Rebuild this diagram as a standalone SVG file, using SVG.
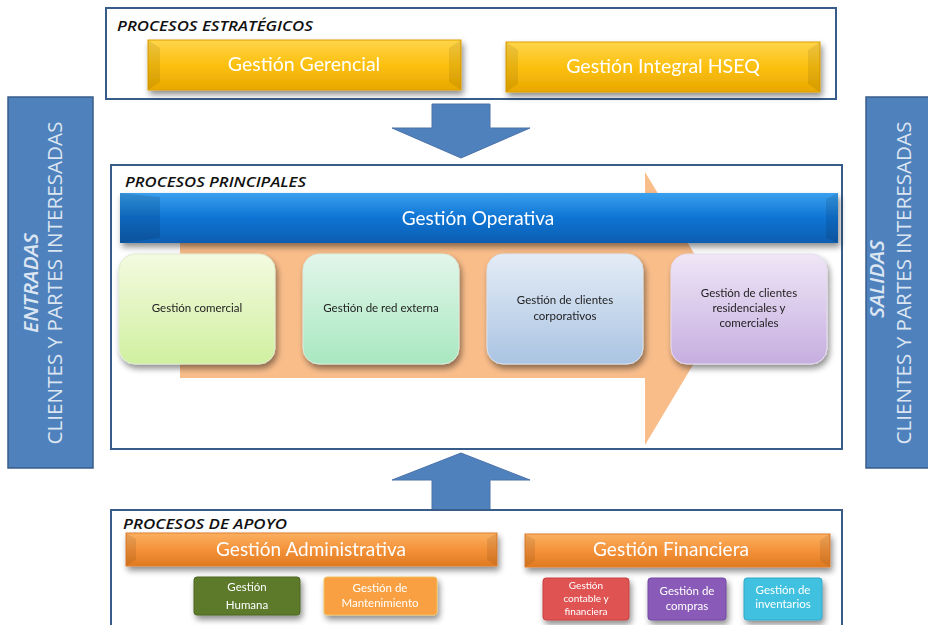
<svg xmlns="http://www.w3.org/2000/svg" width="928" height="625" viewBox="0 0 928 625">
<style>
.frame{fill:#fff;stroke:#385d8a;stroke-width:2}
.side{fill:#4f81bd;stroke:#385d8a;stroke-width:1.5}
.sec{font-family:"Open Sans","Liberation Sans",sans-serif;font-style:italic;font-weight:600;font-size:15px;fill:#111}
.wt{font-family:Lato,"Open Sans",sans-serif;fill:#fff;text-anchor:middle}
.dk{font-family:Lato,"Open Sans",sans-serif;fill:#222;text-anchor:middle;font-size:11.5px}
.st{font-family:"Open Sans","Liberation Sans",sans-serif;fill:#dce6f2;text-anchor:middle;font-size:20px}
.blk{stroke:#4a72a8;fill:#4f81bd;stroke-width:1}
</style>
<defs>
<linearGradient id="gold" x1="0" y1="0" x2="0" y2="1"><stop offset="0" stop-color="#ffd54a"/><stop offset="0.5" stop-color="#fcc010"/><stop offset="1" stop-color="#e8a800"/></linearGradient>
<linearGradient id="blue" x1="0" y1="0" x2="0" y2="1"><stop offset="0" stop-color="#3aa0ee"/><stop offset="0.5" stop-color="#0f74d4"/><stop offset="1" stop-color="#0a5eb0"/></linearGradient>
<linearGradient id="orng" x1="0" y1="0" x2="0" y2="1"><stop offset="0" stop-color="#fbb060"/><stop offset="0.5" stop-color="#f4923a"/><stop offset="1" stop-color="#e07a20"/></linearGradient>
<linearGradient id="c1" x1="0" y1="0" x2="0" y2="1"><stop offset="0" stop-color="#f4fae0"/><stop offset="1" stop-color="#d0f0a0"/></linearGradient>
<linearGradient id="c2" x1="0" y1="0" x2="0" y2="1"><stop offset="0" stop-color="#e2f6ea"/><stop offset="1" stop-color="#a8e8c0"/></linearGradient>
<linearGradient id="c3" x1="0" y1="0" x2="0" y2="1"><stop offset="0" stop-color="#e4ecf6"/><stop offset="1" stop-color="#aac4e2"/></linearGradient>
<linearGradient id="c4" x1="0" y1="0" x2="0" y2="1"><stop offset="0" stop-color="#efe6f6"/><stop offset="1" stop-color="#c6aee0"/></linearGradient>
<filter id="sh" x="-10%" y="-20%" width="130%" height="160%"><feGaussianBlur in="SourceAlpha" stdDeviation="3"/><feOffset dx="2" dy="4"/><feComponentTransfer><feFuncA type="linear" slope="0.45"/></feComponentTransfer><feMerge><feMergeNode/><feMergeNode in="SourceGraphic"/></feMerge></filter>
</defs>

<g id="entradas">
<rect class="side" x="8" y="97" width="85" height="371"/>
<text class="st" transform="translate(38 283) rotate(-90)" font-style="italic" font-weight="600" textLength="100" lengthAdjust="spacingAndGlyphs">ENTRADAS</text>
<text class="st" transform="translate(62 283) rotate(-90)" textLength="323" lengthAdjust="spacingAndGlyphs">CLIENTES  Y  PARTES INTERESADAS</text>
</g>
<g id="salidas">
<rect class="side" x="866" y="97" width="70" height="371"/>
<text class="st" transform="translate(884 279) rotate(-90)" font-style="italic" font-weight="600" textLength="78" lengthAdjust="spacingAndGlyphs">SALIDAS</text>
<text class="st" transform="translate(911 283) rotate(-90)" textLength="323" lengthAdjust="spacingAndGlyphs">CLIENTES  Y  PARTES INTERESADAS</text>
</g>

<g id="estrategicos">
<rect class="frame" x="106" y="8" width="730" height="91"/>
<text class="sec" x="117" y="31" textLength="196" lengthAdjust="spacingAndGlyphs">PROCESOS ESTRATÉGICOS</text>
<g id="gerencial" filter="url(#sh)">
<rect x="148" y="40" width="313" height="50" fill="url(#gold)" stroke="#e0a000"/>
<polygon points="148,40 160,48 160,82 148,90" fill="#000" opacity="0.08"/>
<polygon points="461,40 449,48 449,82 461,90" fill="#000" opacity="0.08"/>
<text class="wt" x="304" y="71" font-size="19.5">Gestión Gerencial</text>
</g>
<g id="hseq" filter="url(#sh)">
<rect x="506" y="42" width="314" height="50" fill="url(#gold)" stroke="#e0a000"/>
<polygon points="506,42 518,50 518,84 506,92" fill="#000" opacity="0.08"/>
<polygon points="820,42 808,50 808,84 820,92" fill="#000" opacity="0.08"/>
<text class="wt" x="663" y="73" font-size="19.5">Gestión Integral HSEQ</text>
</g>
</g>

<g id="connectors">
<polygon class="blk" points="432,104 490,104 490,128 530,128 461,158 392,128 432,128"/>
<polygon class="blk" points="461,453 530,480 490,480 490,512 432,512 432,480 392,480"/>
</g>

<g id="principales">
<rect class="frame" x="111" y="165" width="731" height="284"/>
<polygon points="180,238 645,238 645,172 727,308 645,445 645,378 180,378" fill="#f9bd8a"/>
<text class="sec" x="125" y="187" textLength="181" lengthAdjust="spacingAndGlyphs">PROCESOS PRINCIPALES</text>
<g id="operativa" filter="url(#sh)">
<rect x="120" y="193" width="718" height="50" fill="url(#blue)"/>
<polygon points="120,193 160,197 160,238 120,243" fill="#000" opacity="0.12"/>
<polygon points="838,193 826,199 826,238 838,243" fill="#000" opacity="0.1"/>
<text class="wt" x="478" y="225" font-size="19">Gestión Operativa</text>
</g>
<g id="comercial" filter="url(#sh)">
<rect x="119" y="254" width="156" height="110" rx="16" fill="url(#c1)" stroke="#e0ecd0"/>
<text class="dk" x="197" y="312">Gestión comercial</text>
</g>
<g id="redexterna" filter="url(#sh)">
<rect x="303" y="254" width="156" height="110" rx="16" fill="url(#c2)" stroke="#d8ece0"/>
<text class="dk" x="381" y="312">Gestión de red externa</text>
</g>
<g id="corporativos" filter="url(#sh)">
<rect x="487" y="254" width="156" height="110" rx="16" fill="url(#c3)" stroke="#d8e2ee"/>
<text class="dk" x="565" y="304">Gestión de clientes</text>
<text class="dk" x="565" y="320">corporativos</text>
</g>
<g id="residenciales" filter="url(#sh)">
<rect x="671" y="254" width="156" height="110" rx="16" fill="url(#c4)" stroke="#e4dcee"/>
<text class="dk" x="749" y="297">Gestión de clientes</text>
<text class="dk" x="749" y="312">residenciales y</text>
<text class="dk" x="749" y="327">comerciales</text>
</g>
</g>

<g id="apoyo">
<rect class="frame" x="111" y="510" width="731" height="130"/>
<text class="sec" x="123" y="529" textLength="164" lengthAdjust="spacingAndGlyphs">PROCESOS DE APOYO</text>
<g id="administrativa" filter="url(#sh)">
<rect x="126" y="533" width="371" height="33" fill="url(#orng)" stroke="#e08030"/>
<polygon points="126,533 136,539 136,560 126,566" fill="#000" opacity="0.08"/>
<polygon points="497,533 487,539 487,560 497,566" fill="#000" opacity="0.08"/>
<text class="wt" x="311" y="556" font-size="19">Gestión Administrativa</text>
</g>
<g id="financiera" filter="url(#sh)">
<rect x="525" y="534" width="305" height="33" fill="url(#orng)" stroke="#e08030"/>
<polygon points="525,534 535,540 535,561 525,567" fill="#000" opacity="0.08"/>
<polygon points="830,534 820,540 820,561 830,567" fill="#000" opacity="0.08"/>
<text class="wt" x="671" y="556" font-size="19">Gestión Financiera</text>
</g>
<g id="humana" filter="url(#sh)">
<rect x="194" y="577" width="106" height="38" rx="3" fill="#5b7a2c" stroke="#4a6622"/>
<text class="wt" x="247" y="591" font-size="11.5">Gestión</text>
<text class="wt" x="247" y="609" font-size="11.5">Humana</text>
</g>
<g id="mantenimiento" filter="url(#sh)">
<rect x="324" y="577" width="113" height="38" rx="3" fill="#f9a042" stroke="#f0c060"/>
<text class="wt" x="380" y="592" font-size="11.5">Gestión de</text>
<text class="wt" x="380" y="607" font-size="11.5">Mantenimiento</text>
</g>
<g id="contable" filter="url(#sh)">
<rect x="543" y="578" width="86" height="42" rx="3" fill="#df5353" stroke="#c84040"/>
<text class="wt" x="586" y="589" font-size="10">Gestión</text>
<text class="wt" x="586" y="602" font-size="10">contable y</text>
<text class="wt" x="586" y="615" font-size="10">financiera</text>
</g>
<g id="compras" filter="url(#sh)">
<rect x="648" y="578" width="78" height="42" rx="3" fill="#8a5ab8" stroke="#7048a0"/>
<text class="wt" x="687" y="595" font-size="11.5">Gestión de</text>
<text class="wt" x="687" y="610" font-size="11.5">compras</text>
</g>
<g id="inventarios" filter="url(#sh)">
<rect x="744" y="578" width="78" height="42" rx="3" fill="#3fc1df" stroke="#30a8c8"/>
<text class="wt" x="783" y="594" font-size="11.5">Gestión de</text>
<text class="wt" x="783" y="608" font-size="11.5">inventarios</text>
</g>
</g>
</svg>
